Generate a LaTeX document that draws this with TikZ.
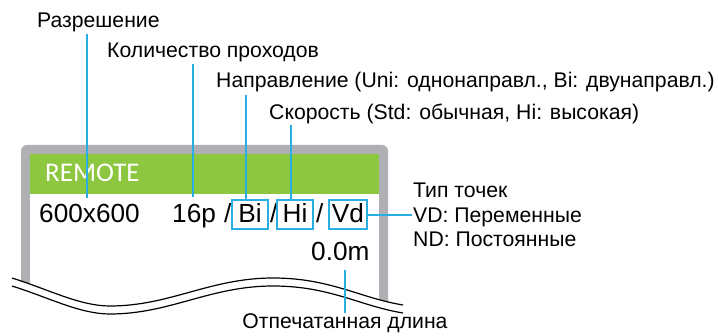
\documentclass[tikz,border=0pt]{standalone}
\usepackage{fontspec}
\setmainfont{Liberation Sans}
\newfontfamily\remotefont{Carlito}
\definecolor{lblue}{RGB}{41,174,228}
\definecolor{fgreen}{RGB}{141,198,63}
\definecolor{fgray}{RGB}{175,176,179}
\begin{document}
\begin{tikzpicture}[x=1pt,y=-1pt,
 lbl/.style={font=\fontsize{21.2}{24}\selectfont, inner sep=0pt, anchor=base west},
 big/.style={font=\fontsize{26.2}{30}\selectfont, inner sep=0pt, anchor=base west},
 lead/.style={draw=lblue, line width=1.5pt},
 hbox/.style={draw=lblue, line width=1.5pt, font=\fontsize{26.2}{30}\selectfont, inner sep=0pt, text height=23pt, text depth=6pt, anchor=base},
 wave/.style={line width=1.2pt}]
\useasboundingbox (0,0) rectangle (718,336);
% frame
\fill[fgray, rounded corners=6pt] (21,145) rectangle (388,330);
\fill[white] (30,154) rectangle (379,330);
\fill[fgreen] (30,154) rectangle (379,194);
\node[inner sep=0pt, anchor=base west, text=white, font=\remotefont\fontsize{27}{30}\selectfont] (remote) at (45,182) {REMOTE};
% break
\fill[white] (12,278) .. controls (50,290) and (80,306) .. (110,306) .. controls (170,306) and (210,278) .. (273,278) .. controls (330,278) and (360,298) .. (403,305) -- (403,336) -- (12,336) -- cycle;
\draw[wave] (12,278) .. controls (50,290) and (80,306) .. (110,306) .. controls (170,306) and (210,278) .. (273,278) .. controls (330,278) and (360,298) .. (403,305);
\draw[wave] (12,286) .. controls (50,298) and (80,314) .. (110,314) .. controls (170,314) and (210,286) .. (273,286) .. controls (330,286) and (360,306) .. (403,313);
% main row
\node[big] (res) at (39,223) {600x600};
\node[big] (pass) at (172,223) {16p};
\node[big] (s1) at (224,223) {/};
\node[hbox, minimum width=36pt] (bi) at (250,223) {Bi};
\node[big] (s2) at (270,223) {/};
\node[hbox, minimum width=36pt] (hi) at (295,223) {Hi};
\node[big] (s3) at (316,223) {/};
\node[hbox, minimum width=38pt] (vd) at (348,223) {Vd};
\node[big] (len) at (311,261) {0.0m};
% labels
\node[lbl] (lres) at (37,28) {Разрешение};
\node[lbl] (lpass) at (107,58) {Количество проходов};
\node[lbl] (ldir) at (216,88) {Направление (Uni: однонаправл., Bi: двунаправл.)};
\node[lbl] (lspd) at (269,120) {Скорость (Std: обычная, Hi: высокая)};
\node[lbl] (ldot1) at (413,198) {Тип точек};
\node[lbl] (ldot2) at (413,223) {VD: Переменные};
\node[lbl] (ldot3) at (413,247) {ND: Постоянные};
\node[lbl, anchor=base] (llen) at (345,329) {Отпечатанная длина};
% leaders
\coordinate (c1) at (87,34);
\coordinate (c1e) at (87,198);
\draw[lead] (c1) -- (c1e);
\coordinate (c2) at (193,64);
\coordinate (c2e) at (193,197);
\draw[lead] (c2) -- (c2e);
\coordinate (c3) at (246,95);
\draw[lead] (c3) -- (c3 |- bi.north);
\coordinate (c4) at (291,125);
\draw[lead] (c4) -- (c4 |- hi.north);
\coordinate (c5) at (412,215);
\draw[lead] (vd.east |- c5) -- (c5);
\coordinate (c6) at (345,270);
\coordinate (c6e) at (345,313);
\draw[lead] (c6) -- (c6e);
\end{tikzpicture}
\end{document}
